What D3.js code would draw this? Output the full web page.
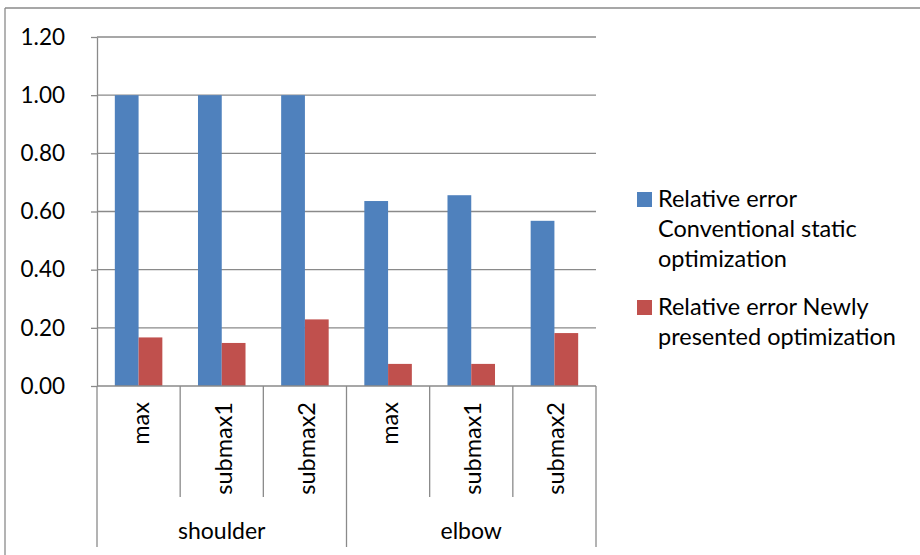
<!DOCTYPE html>
<html>
<head>
<meta charset="utf-8">
<script src="https://cdn.jsdelivr.net/npm/d3@7"></script>
<style>
  html, body { margin: 0; padding: 0; background: #fff; }
  svg { display: block; }
  text { font-family: Lato, "Open Sans", sans-serif; fill: #000; }
</style>
</head>
<body>
<svg id="chart" width="920" height="555"></svg>
<script>
// Joint groups and the measure within each group
const groups = ["shoulder", "elbow"];
const measures = ["max", "submax1", "submax2"];
const categories = ["shoulder|max", "shoulder|submax1", "shoulder|submax2",
                    "elbow|max", "elbow|submax1", "elbow|submax2"];

// Series values per category
const seriesNames = ["Relative error Conventional static optimization",
                     "Relative error Newly presented optimization"];
const conventional = [1.00, 1.00, 1.00, 0.636, 0.656, 0.568];
const newlyPresented = [0.167, 0.148, 0.229, 0.076, 0.076, 0.182];

const yTicks = [0, 0.2, 0.4, 0.6, 0.8, 1.0, 1.2];
const colors = ["#4F81BD", "#C0504D"];

const svg = d3.select("#chart");
const gridColor = "#8a8a8a";

// outer frame of the chart area
svg.append("line").attr("x1", 5).attr("x2", 5).attr("y1", 8).attr("y2", 555)
  .attr("stroke", gridColor).attr("stroke-width", 1.3);
svg.append("line").attr("x1", 5).attr("x2", 920).attr("y1", 8).attr("y2", 8)
  .attr("stroke", gridColor).attr("stroke-width", 1.3);

const plot = { left: 97, right: 596, top: 37, bottom: 386 };

const y = d3.scaleLinear().domain([0, 1.2]).range([plot.bottom, plot.top]);
const x = d3.scaleBand().domain(categories).range([plot.left, plot.right]).padding(0);
const xSub = d3.scaleBand().domain([0, 1]).range([0, x.bandwidth()])
  .paddingInner(0).paddingOuter(0.75);

// horizontal gridlines
svg.append("g").selectAll("line").data(yTicks.filter(d => d > 0)).join("line")
  .attr("x1", plot.left).attr("x2", plot.right)
  .attr("y1", d => y(d)).attr("y2", d => y(d))
  .attr("stroke", gridColor).attr("stroke-width", 1.3);

// bars
const rows = categories.map((c, i) => ({ cat: c, vals: [conventional[i], newlyPresented[i]] }));
const barG = svg.append("g");
rows.forEach(r => {
  barG.selectAll(null).data(r.vals).enter().append("rect")
    .attr("x", (d, j) => x(r.cat) + xSub(j))
    .attr("width", xSub.bandwidth())
    .attr("y", d => y(d))
    .attr("height", d => y(0) - y(d))
    .attr("fill", (d, j) => colors[j]);
});

// y axis
const yAxis = d3.axisLeft(y).tickValues(yTicks).tickFormat(d3.format(".2f"))
  .tickSizeInner(6).tickSizeOuter(0).tickPadding(26);
const yg = svg.append("g").attr("transform", `translate(${plot.left},0)`).call(yAxis);
yg.select(".domain").attr("stroke", gridColor).attr("stroke-width", 1.3);
yg.selectAll(".tick line").attr("stroke", gridColor).attr("stroke-width", 1.3);
yg.selectAll(".tick text").attr("font-size", 22.5).attr("font-family", "Lato, sans-serif")
  .attr("fill", "#000");

// x axis baseline
svg.append("line").attr("x1", plot.left).attr("x2", plot.right)
  .attr("y1", plot.bottom).attr("y2", plot.bottom)
  .attr("stroke", gridColor).attr("stroke-width", 1.3);

// category separators: short ones between measures, long ones between groups
const bounds = d3.range(categories.length + 1).map(i => plot.left + i * x.step());
svg.append("g").selectAll("line").data(bounds).join("line")
  .attr("x1", d => d).attr("x2", d => d)
  .attr("y1", plot.bottom)
  .attr("y2", (d, i) => (i % measures.length === 0) ? 547 : 497)
  .attr("stroke", gridColor).attr("stroke-width", 1.3);

// rotated measure labels
svg.append("g").selectAll("text").data(categories).join("text")
  .attr("transform", d => `translate(${x(d) + x.bandwidth() / 2 + 10},402) rotate(-90)`)
  .attr("text-anchor", "end")
  .attr("font-size", 23.5)
  .text(d => d.split("|")[1]);

// group labels
svg.append("g").selectAll("text").data(groups).join("text")
  .attr("x", (g, i) => (bounds[i * 3] + bounds[i * 3 + 3]) / 2)
  .attr("y", 539)
  .attr("text-anchor", "middle")
  .attr("font-size", 23)
  .text(d => d);

// legend
const legendLines = [["Relative error", "Conventional static", "optimization"],
                     ["Relative error Newly", "presented optimization"]];
const legendTop = [192, 300];
const legend = svg.append("g");
seriesNames.forEach((s, i) => {
  legend.append("rect").attr("x", 637).attr("y", legendTop[i])
    .attr("width", 15).attr("height", 15).attr("fill", colors[i]);
  legend.append("text").attr("font-size", 23.5)
    .selectAll("tspan").data(legendLines[i]).join("tspan")
    .attr("x", 658).attr("y", (d, k) => legendTop[i] + 15 + k * 30)
    .text(d => d);
});
</script>
</body>
</html>
